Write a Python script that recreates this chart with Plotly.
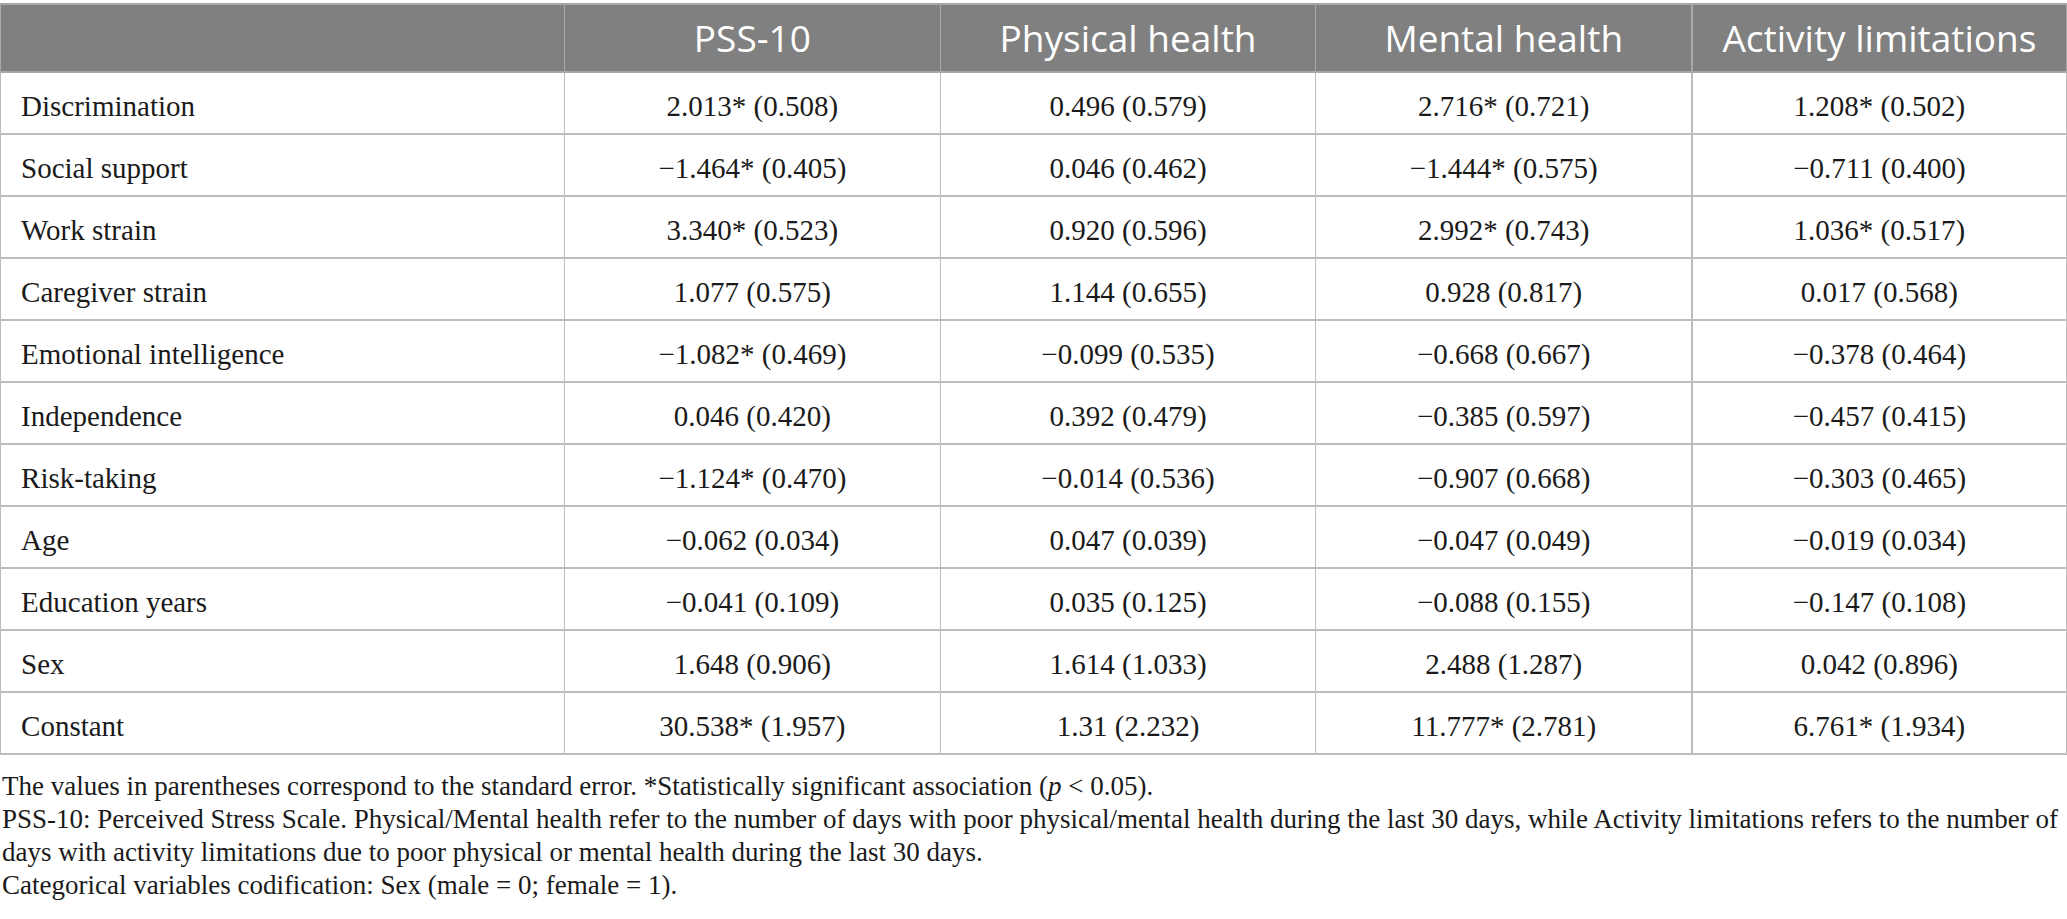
import plotly.graph_objects as go

predictors = ["Discrimination", "Social support", "Work strain", "Caregiver strain",
              "Emotional intelligence", "Independence", "Risk-taking", "Age",
              "Education years", "Sex", "Constant"]

col_headers = ["", "PSS-10", "Physical health", "Mental health", "Activity limitations"]

pss10 = ["2.013* (0.508)", "−1.464* (0.405)", "3.340* (0.523)", "1.077 (0.575)",
         "−1.082* (0.469)", "0.046 (0.420)", "−1.124* (0.470)", "−0.062 (0.034)",
         "−0.041 (0.109)", "1.648 (0.906)", "30.538* (1.957)"]
physical = ["0.496 (0.579)", "0.046 (0.462)", "0.920 (0.596)", "1.144 (0.655)",
            "−0.099 (0.535)", "0.392 (0.479)", "−0.014 (0.536)", "0.047 (0.039)",
            "0.035 (0.125)", "1.614 (1.033)", "1.31 (2.232)"]
mental = ["2.716* (0.721)", "−1.444* (0.575)", "2.992* (0.743)", "0.928 (0.817)",
          "−0.668 (0.667)", "−0.385 (0.597)", "−0.907 (0.668)", "−0.047 (0.049)",
          "−0.088 (0.155)", "2.488 (1.287)", "11.777* (2.781)"]
activity = ["1.208* (0.502)", "−0.711 (0.400)", "1.036* (0.517)", "0.017 (0.568)",
            "−0.378 (0.464)", "−0.457 (0.415)", "−0.303 (0.465)", "−0.019 (0.034)",
            "−0.147 (0.108)", "0.042 (0.896)", "6.761* (1.934)"]

footnotes = [
    "The values in parentheses correspond to the standard error. *Statistically significant association (<i>p</i> &lt; 0.05).",
    "PSS-10: Perceived Stress Scale. Physical/Mental health refer to the number of days with poor physical/mental health during the last 30 days, while Activity limitations refers to the number of",
    "days with activity limitations due to poor physical or mental health during the last 30 days.",
    "Categorical variables codification: Sex (male = 0; female = 1).",
]

W, H = 2067, 919
pad = "\u00a0\u2009"


# plotly tables put text at the top of a cell; an empty small first line
# pushes the real text down so it sits in the middle of the row
def mid(s, size):
    return "\u00a0<br><span style='font-size:%spx'>%s</span>" % (size, s)


body_size = 29
head_size = 37

fig = go.Figure(go.Table(
    columnwidth=[564, 376, 375, 376, 375],
    header=dict(
        values=[mid(h, head_size) for h in col_headers],
        fill_color="#808080",
        line=dict(color="#a8a8a8", width=1.5),
        font=dict(family="Open Sans", size=12, color="white"),
        align="center",
        height=68,
    ),
    cells=dict(
        values=[[mid(pad + p, body_size) for p in predictors]] +
               [[mid(v, body_size) for v in col] for col in (pss10, physical, mental, activity)],
        fill_color="white",
        line=dict(color="#bdbdbd", width=1.5),
        font=dict(family="Liberation Serif", size=16.5, color="#1a1a1a"),
        align=["left", "center", "center", "center", "center"],
        height=62,
    ),
    domain=dict(x=[0, 1], y=[1 - 760 / H, 1 - 4 / H]),
))

for i, t in enumerate(footnotes):
    fig.add_annotation(
        text=t, x=0, y=1 - (786 + 33 * i) / H, xref="paper", yref="paper",
        xanchor="left", yanchor="middle", showarrow=False,
        font=dict(family="Liberation Serif", size=27, color="#1a1a1a"),
    )

fig.update_layout(width=W, height=H, margin=dict(l=0, r=0, t=0, b=0),
                  paper_bgcolor="white")

fig.write_html("out.html", config={"displayModeBar": False},
               post_script="document.body.style.margin='0px';")
